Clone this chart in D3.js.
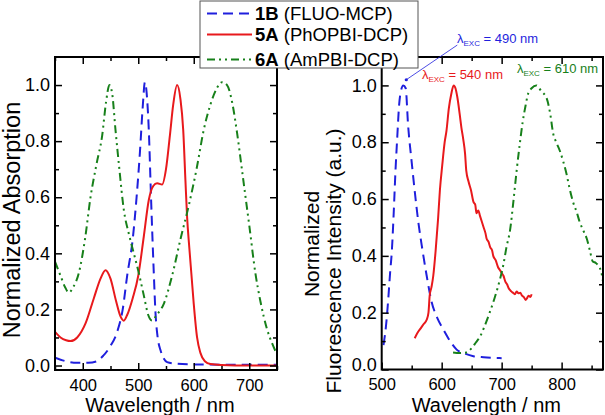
<!DOCTYPE html>
<html>
<head>
<meta charset="utf-8">
<script src="https://cdn.jsdelivr.net/npm/d3@7"></script>
<style>
	body { margin: 0; background: #fff; }
	svg { display: block; font-family: "Liberation Sans", Arial, sans-serif; }
	.tick text { fill: #000; }
	.xlab .tick text { font-size: 16.5px; }
	.ylab .tick text { font-size: 18px; }
	.axis path.domain { display: none; }
	.axis line { stroke: #000; stroke-width: 1.5; }
</style>
</head>
<body>
<svg id="chart" width="605" height="415"></svg>
<script>
// absorption spectra [wavelength nm, normalized value]
const abs1B = [[350,0.028],[370,0.015],[390,0.01],[410,0.01],[425,0.015],[437,0.035],[450,0.07],[462,0.12],[472,0.2],
	[480,0.32],[490,0.45],[497,0.6],[503,0.76],[508,0.92],[512,1.01],[516,0.95],[519,0.84],[523,0.6],[528,0.33],
	[531,0.19],[535,0.1],[540,0.055],[546,0.025],[552,0.012],[570,0.006],[600,0.004],[650,0.003],[700,0.003],[750,0.003]];
const abs5A = [[350,0.12],[360,0.1],[370,0.09],[378,0.087],[390,0.1],[405,0.15],[420,0.24],[432,0.31],[441,0.34],
	[450,0.31],[460,0.23],[468,0.175],[474,0.16],[480,0.18],[490,0.24],[500,0.32],[510,0.46],[519,0.59],[527,0.64],
	[534,0.65],[543,0.645],[550,0.7],[557,0.82],[563,0.93],[570,1.0],[576,0.95],[581,0.84],[585,0.66],[588,0.53],
	[592,0.42],[596,0.32],[600,0.22],[606,0.1],[612,0.045],[620,0.015],[630,0.005],[650,0.002],[700,0.0],[750,0.0]];
const abs6A = [[350,0.37],[360,0.32],[368,0.28],[375,0.26],[383,0.28],[393,0.33],[404,0.45],[414,0.6],[425,0.72],
	[435,0.82],[442,0.94],[448,1.0],[453,0.97],[459,0.84],[466,0.7],[474,0.555],[483,0.47],[492,0.4],[501,0.33],
	[510,0.25],[518,0.18],[525,0.16],[533,0.18],[546,0.22],[561,0.32],[576,0.45],[591,0.57],[605,0.7],[618,0.84],
	[630,0.93],[642,0.99],[651,1.01],[660,1.0],[670,0.93],[678,0.83],[690,0.65],[700,0.5],[711,0.33],[720,0.23],
	[732,0.13],[742,0.075],[750,0.04]];

// fluorescence spectra
const fl1B = [[503,0.086],[507,0.15],[511,0.25],[514,0.34],[517,0.42],[520,0.55],[523,0.7],[526,0.82],[529,0.93],
	[532,0.98],[536,1.0],[540,0.99],[544,0.86],[550,0.73],[556,0.61],[561,0.52],[568,0.42],[575,0.33],[583,0.24],
	[593,0.18],[603,0.14],[614,0.1],[625,0.07],[640,0.055],[653,0.047],[670,0.043],[685,0.041],[700,0.04]];
const fl5A = [[555,0.11],[560,0.13],[565,0.145],[570,0.16],[575,0.175],[578,0.2],[580,0.26],[583,0.29],[586,0.33],
	[590,0.42],[594,0.53],[597,0.63],[601,0.72],[605,0.8],[608,0.84],[612,0.92],[616,0.97],[620,1.0],[623,0.99],
	[626,0.96],[630,0.9],[633,0.85],[636,0.81],[639,0.76],[641,0.7],[645,0.66],[649,0.63],[653,0.59],[656,0.58],
	[658,0.55],[661,0.56],[664,0.54],[667,0.52],[670,0.5],[673,0.48],[675,0.46],[678,0.45],[681,0.43],[684,0.42],
	[686,0.4],[690,0.385],[694,0.36],[697,0.35],[700,0.34],[703,0.33],[706,0.31],[709,0.3],[712,0.285],[716,0.275],
	[719,0.27],[722,0.265],[725,0.275],[728,0.268],[731,0.27],[734,0.26],[737,0.255],[740,0.245],[742,0.25],
	[745,0.26],[748,0.255],[750,0.265]];
const fl6A = [[619,0.06],[630,0.058],[641,0.06],[650,0.075],[657,0.095],[664,0.116],[672,0.155],[680,0.2],[688,0.25],
	[697,0.316],[703,0.37],[708,0.43],[714,0.49],[720,0.6],[725,0.7],[730,0.79],[735,0.87],[740,0.93],[744,0.97],
	[750,0.99],[758,1.0],[766,0.98],[775,0.955],[781,0.9],[786,0.83],[791,0.8],[797,0.77],[803,0.73],[808,0.69],
	[813,0.64],[819,0.59],[825,0.555],[830,0.52],[836,0.49],[842,0.46],[847,0.42],[852,0.38],[857,0.375],
	[863,0.36],[866,0.345],[869,0.31],[872,0.28]];

const legendNames = ["1B", "5A", "6A"];
const legendDesc = [" (FLUO-MCP)", " (PhOPBI-DCP)", " (AmPBI-DCP)"];
const colors = ["#1f1fdd", "#e8191c", "#17801a"];
const dashes = ["10,6", null, "8,4,2,4,2,4"];

const absXTicks = [400, 500, 600, 700];
const absXMinor = [350, 450, 550, 650, 750];
const flXTicks = [500, 600, 700, 800];
const flXMinor = [550, 650, 750, 850];
const yTicks = [0, 0.2, 0.4, 0.6, 0.8, 1.0];
const yMinor = [0.1, 0.3, 0.5, 0.7, 0.9];

// [label, wavelength, value] — excitation notes on the fluorescence panel
const excNotes = [["490", 625.5, 1.15], ["540", 567, 1.021], ["610", 725.5, 1.042]];
const excLeader = [[626, 1.142], [541, 1.02]];

let svg = d3.select("#chart");

function panel(id, box, xDom, yDom, xMajor, xMinor, series, zeroLift) {
	let xScale = d3.scaleLinear().domain(xDom).range([box.left, box.right]),
		yScale = d3.scaleLinear().domain(yDom).range([box.bottom, box.top]);

	svg.append("clipPath").attr("id", id)
		.append("rect")
		.attr("x", box.left).attr("y", box.top)
		.attr("width", box.right - box.left).attr("height", box.bottom - box.top);

	let lineGen = d3.line()
		.x(d => xScale(d[0]))
		.y(d => yScale(d[1]))
		.curve(d3.curveMonotoneX);

	let g = svg.append("g").attr("clip-path", "url(#" + id + ")");
	for (let i = 0; i < series.length; i++) {
		g.append("path")
			.attr("d", lineGen(series[i]))
			.attr("fill", "none")
			.attr("stroke", colors[i])
			.attr("stroke-width", 2)
			.attr("stroke-dasharray", dashes[i])
			.attr("stroke-linejoin", "round");
	}

	let fmt = d3.format(".1f");
	// bottom + top
	svg.append("g").attr("class", "axis xlab")
		.attr("transform", "translate(0," + box.bottom + ")")
		.call(d3.axisBottom(xScale).tickValues(xMajor).tickSize(-7).tickPadding(9));
	svg.append("g").attr("class", "axis")
		.attr("transform", "translate(0," + box.bottom + ")")
		.call(d3.axisBottom(xScale).tickValues(xMinor).tickSize(-4).tickFormat(""));
	svg.append("g").attr("class", "axis")
		.attr("transform", "translate(0," + box.top + ")")
		.call(d3.axisTop(xScale).tickValues(xMajor).tickSize(-7).tickFormat(""));
	svg.append("g").attr("class", "axis")
		.attr("transform", "translate(0," + box.top + ")")
		.call(d3.axisTop(xScale).tickValues(xMinor).tickSize(-4).tickFormat(""));
	// left + right
	let yAx = svg.append("g").attr("class", "axis ylab")
		.attr("transform", "translate(" + box.left + ",0)")
		.call(d3.axisLeft(yScale).tickValues(yTicks).tickSize(-7).tickPadding(5).tickFormat(fmt));
	// the 0.0 label sits a little higher so it clears the first x label
	yAx.selectAll(".tick text").filter(d => d === 0).attr("y", -zeroLift);
	svg.append("g").attr("class", "axis")
		.attr("transform", "translate(" + box.left + ",0)")
		.call(d3.axisLeft(yScale).tickValues(yMinor).tickSize(-4).tickFormat(""));
	svg.append("g").attr("class", "axis")
		.attr("transform", "translate(" + box.right + ",0)")
		.call(d3.axisRight(yScale).tickValues(yTicks).tickSize(-7).tickFormat(""));
	svg.append("g").attr("class", "axis")
		.attr("transform", "translate(" + box.right + ",0)")
		.call(d3.axisRight(yScale).tickValues(yMinor).tickSize(-4).tickFormat(""));

	svg.append("rect")
		.attr("x", box.left).attr("y", box.top)
		.attr("width", box.right - box.left).attr("height", box.bottom - box.top)
		.attr("fill", "none").attr("stroke", "#000").attr("stroke-width", 2);

	svg.append("text")
		.attr("x", (box.left + box.right) / 2 - 6).attr("y", 412)
		.attr("text-anchor", "middle").attr("font-size", 20)
		.text("Wavelength / nm");

	return { x: xScale, y: yScale };
}

let absBox = { left: 55, right: 277, top: 57, bottom: 370 };
let flBox = { left: 381.7, right: 603, top: 57, bottom: 369.5 };

panel("clipAbs", absBox, [350, 750], [-0.016, 1.1], absXTicks, absXMinor, [abs1B, abs5A, abs6A], 0);
let fl = panel("clipFl", flBox, [500, 869], [0, 1.1], flXTicks, flXMinor, [fl1B, fl5A, fl6A], 4.5);

// y titles
svg.append("text")
	.attr("transform", "translate(20,220) rotate(-90)")
	.attr("text-anchor", "middle").attr("font-size", 23.5)
	.text("Normalized Absorption");
svg.append("text")
	.attr("transform", "translate(319,244) rotate(-90)")
	.attr("text-anchor", "middle").attr("font-size", 21)
	.text("Normalized");
svg.append("text")
	.attr("transform", "translate(341,261) rotate(-90)")
	.attr("text-anchor", "middle").attr("font-size", 21)
	.text("Fluorescence Intensity (a.u.)");

// excitation notes
svg.append("line")
	.attr("x1", fl.x(excLeader[0][0])).attr("y1", fl.y(excLeader[0][1]))
	.attr("x2", fl.x(excLeader[1][0])).attr("y2", fl.y(excLeader[1][1]))
	.attr("stroke", colors[0]).attr("stroke-width", 0.8);
svg.append("circle")
	.attr("cx", fl.x(excLeader[1][0])).attr("cy", fl.y(excLeader[1][1]))
	.attr("r", 1.6).attr("fill", colors[0]);

for (let i = 0; i < excNotes.length; i++) {
	let t = svg.append("text")
		.attr("x", fl.x(excNotes[i][1])).attr("y", fl.y(excNotes[i][2]))
		.attr("font-size", 13).attr("fill", colors[i]);
	t.append("tspan").text("λ");
	t.append("tspan").attr("font-size", 8).attr("dy", 3).text("EXC");
	t.append("tspan").attr("dy", -3).text(" = " + excNotes[i][0] + " nm");
}

// legend
let legend = svg.append("g");
legend.append("rect")
	.attr("x", 200).attr("y", 1).attr("width", 218).attr("height", 67)
	.attr("fill", "#fff").attr("stroke", "#555").attr("stroke-width", 1);
let rowY = [13.5, 34.5, 59.5];
for (let i = 0; i < legendNames.length; i++) {
	legend.append("line")
		.attr("x1", 207).attr("x2", 252).attr("y1", rowY[i]).attr("y2", rowY[i])
		.attr("stroke", colors[i]).attr("stroke-width", 2)
		.attr("stroke-dasharray", dashes[i]);
	let t = legend.append("text")
		.attr("x", 255).attr("y", rowY[i] + 6.5).attr("font-size", 18.5);
	t.append("tspan").attr("font-weight", "bold").text(legendNames[i]);
	t.append("tspan").text(legendDesc[i]);
}
</script>
</body>
</html>
